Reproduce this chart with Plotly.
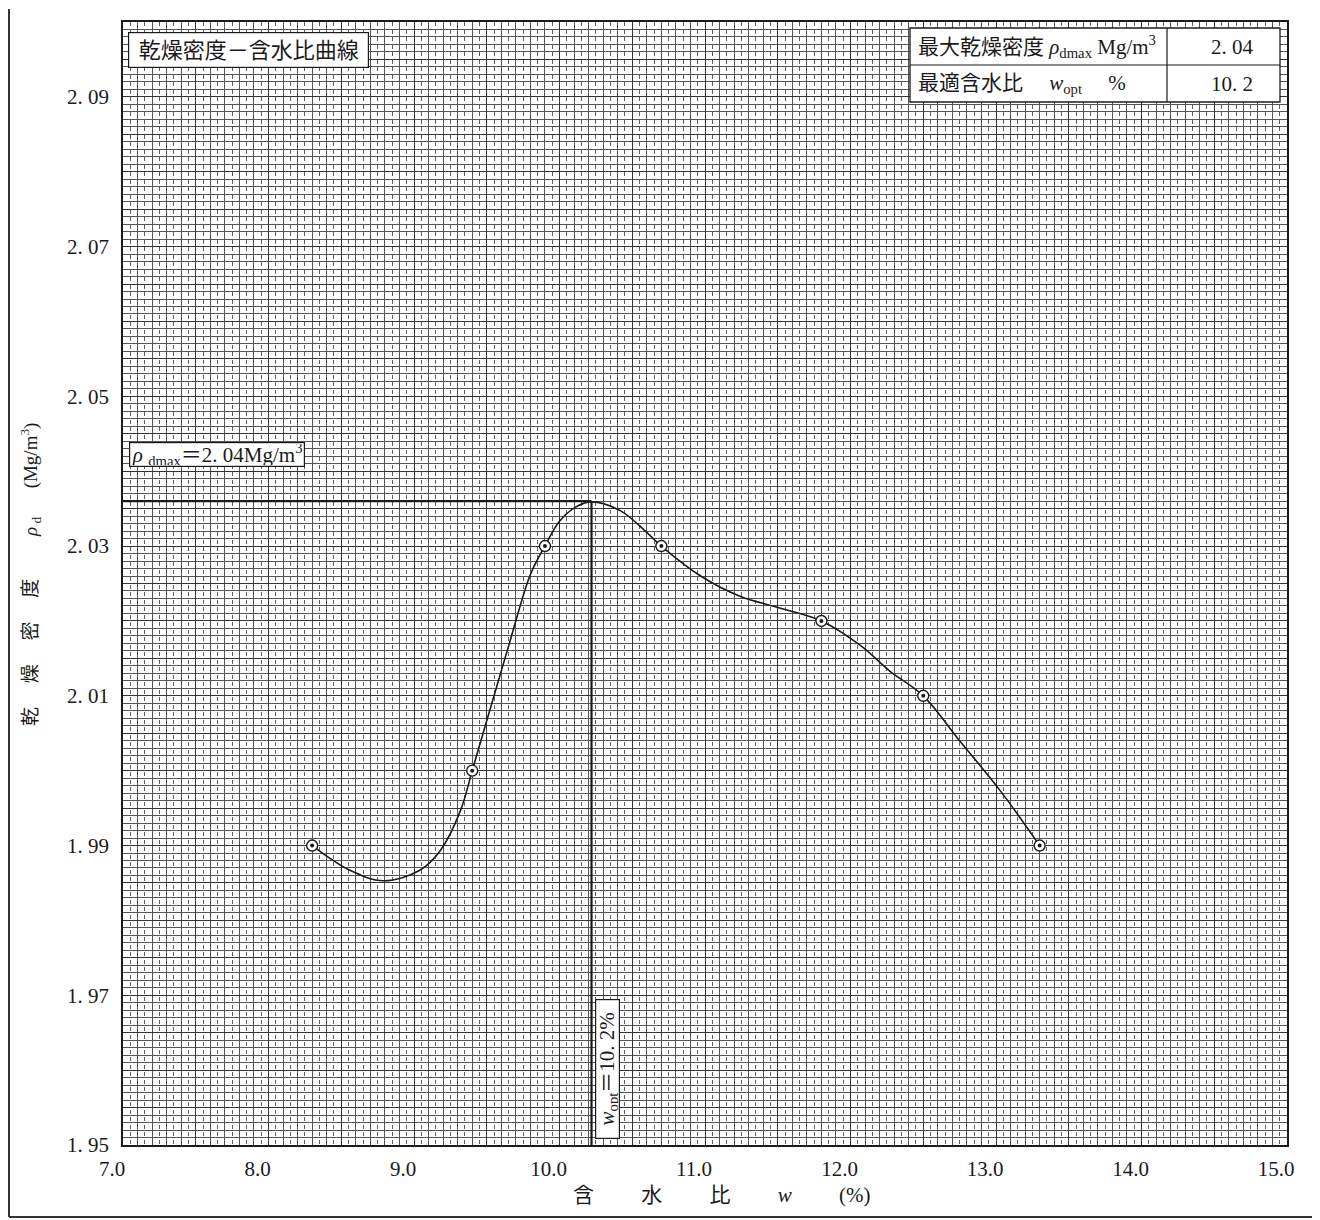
import plotly.graph_objects as go

# ---------------- data ----------------
w_points = [8.3, 9.4, 9.9, 10.7, 11.8, 12.5, 13.3]
rho_points = [1.990, 2.000, 2.030, 2.030, 2.020, 2.010, 1.990]

# hand-drawn compaction curve
curve_w = [8.30, 8.56, 8.79, 9.04, 9.18, 9.32, 9.40, 9.52, 9.66, 9.80, 9.90,
           10.00, 10.11, 10.22, 10.42, 10.59, 10.70, 10.97, 11.24, 11.52, 11.80,
           12.07, 12.27, 12.50, 12.75, 13.03, 13.30]
curve_rho = [1.9900, 1.9867, 1.9853, 1.9867, 1.9893, 1.9947, 2.0000, 2.0080, 2.0173,
             2.0262, 2.0300, 2.0333, 2.0352, 2.0359, 2.0347, 2.0320, 2.0300, 2.0260,
             2.0233, 2.0217, 2.0200, 2.0167, 2.0133, 2.0100, 2.0040, 1.9973, 1.9900]

w_opt_line = 10.22
rho_max_line = 2.036

x_tick_vals = [7.0, 8.0, 9.0, 10.0, 11.0, 12.0, 13.0, 14.0, 15.0]
x_tick_text = ["7.0", "8.0", "9.0", "10.0", "11.0", "12.0", "13.0", "14.0", "15.0"]
y_tick_vals = [1.95, 1.97, 1.99, 2.01, 2.03, 2.05, 2.07, 2.09]
y_tick_text = ["1. 95", "1. 97", "1. 99", "2. 01", "2. 03", "2. 05", "2. 07", "2. 09"]

x_range = [7.0, 15.0]
y_range = [1.95, 2.10]

# ---------------- layout helpers (page pixel coordinates) ----------------
OFF = 8                      # default page margin of the html body
W, H = 1320 - OFF, 1220 - OFF
L, R, T, B = 123, 1287, 22, 1145   # plot area on the page


def px(xp):
    return (xp - L) / (R - L)


def py(yp):
    return (B - yp) / (B - T)


SERIF = "Liberation Serif, Noto Sans CJK JP, serif"
INK = "#1a1a1a"

fig = go.Figure()

# reference lines (optimum water content / max dry density)
fig.add_trace(go.Scatter(x=[x_range[0], w_opt_line], y=[rho_max_line, rho_max_line],
                         mode="lines", line=dict(color=INK, width=2.2),
                         showlegend=False, hoverinfo="skip"))
fig.add_trace(go.Scatter(x=[w_opt_line, w_opt_line], y=[y_range[0], rho_max_line],
                         mode="lines", line=dict(color=INK, width=2.2),
                         showlegend=False, hoverinfo="skip"))

# curve
fig.add_trace(go.Scatter(x=curve_w, y=curve_rho, mode="lines",
                         line=dict(color=INK, width=1.6, shape="spline", smoothing=1.0),
                         showlegend=False, hoverinfo="skip"))

# measured points: ring + centre dot
fig.add_trace(go.Scatter(x=w_points, y=rho_points, mode="markers",
                         marker=dict(symbol="circle", size=11, color="white",
                                     line=dict(color=INK, width=1.4)),
                         showlegend=False))
fig.add_trace(go.Scatter(x=w_points, y=rho_points, mode="markers",
                         marker=dict(symbol="circle", size=4, color=INK),
                         showlegend=False, hoverinfo="skip"))

# empty trace for the overlay grid axes
fig.add_trace(go.Scatter(x=[], y=[], xaxis="x2", yaxis="y2", showlegend=False,
                         hoverinfo="skip"))

thin = "#555555"
heavy = "#333333"

fig.update_layout(
    width=W, height=H,
    margin=dict(l=L - OFF, r=W - (R - OFF), t=T - OFF, b=H - (B - OFF)),
    paper_bgcolor="white", plot_bgcolor="white",
    font=dict(family=SERIF, color=INK, size=20),
    xaxis=dict(range=x_range, tickmode="array", tickvals=x_tick_vals, ticktext=x_tick_text,
               showgrid=True, gridcolor=heavy, gridwidth=1.4,
               minor=dict(tickmode="linear", tick0=7.0, dtick=0.1, showgrid=True,
                          gridcolor=thin, gridwidth=1),
               showline=True, mirror=True, linecolor=INK, linewidth=1.6,
               ticks="", zeroline=False, tickfont=dict(family=SERIF, size=21, color=INK),
               ticklabelshift=-11, ticklabelstandoff=4),
    xaxis2=dict(range=x_range, overlaying="x", anchor="y", showticklabels=False,
                tickmode="linear", tick0=7.0, dtick=0.5, showgrid=True,
                gridcolor=heavy, gridwidth=1.25, zeroline=False, showline=False, ticks="",
                minor=dict(tickmode="linear", tick0=7.05, dtick=0.1, showgrid=True,
                           gridcolor="#5e5e5e", gridwidth=1, griddash="4px,3.5px")),
    yaxis=dict(range=y_range, tickmode="array", tickvals=y_tick_vals, ticktext=y_tick_text,
               showgrid=True, gridcolor=heavy, gridwidth=1.25,
               minor=dict(tickmode="linear", tick0=1.95, dtick=0.001, showgrid=True,
                          gridcolor=thin, gridwidth=1),
               showline=True, mirror=True, linecolor=INK, linewidth=1.6,
               ticks="", zeroline=False, tickfont=dict(family=SERIF, size=21, color=INK),
               ticklabelstandoff=8),
    yaxis2=dict(range=y_range, overlaying="y", anchor="x", showticklabels=False,
                tickmode="linear", tick0=1.95, dtick=0.005, showgrid=True,
                gridcolor=heavy, gridwidth=1.2, zeroline=False, showline=False, ticks=""),
)

annotations = []
# axis titles
annotations.append(dict(x=px(722), y=py(1195), xref="paper", yref="paper",
                        text="含　　 水　　 比　　 <i>w</i>　　 (%)",
                        showarrow=False, font=dict(family=SERIF, size=21, color=INK),
                        xanchor="center", yanchor="middle"))
annotations.append(dict(x=px(30), y=py(575), xref="paper", yref="paper",
                        text="乾 　燥 　密 　度 　　<i>ρ</i><sub> d</sub> 　 (Mg/m<sup>3</sup>)",
                        textangle=-90, showarrow=False,
                        font=dict(family=SERIF, size=19, color=INK),
                        xanchor="center", yanchor="middle"))
# chart title box
annotations.append(dict(x=px(248.5), y=py(50), xref="paper", yref="paper",
                        text="乾燥密度－含水比曲線", showarrow=False,
                        font=dict(family=SERIF, size=22, color=INK),
                        bgcolor="white", bordercolor=INK, borderwidth=1.2, borderpad=2,
                        width=235, height=30, xanchor="center", yanchor="middle"))
# rho dmax label box
annotations.append(dict(x=px(216.5), y=py(454), xref="paper", yref="paper",
                        text="<i>ρ</i> <sub>dmax</sub>＝2. 04Mg/m<sup>3</sup>", showarrow=False,
                        font=dict(family=SERIF, size=21, color=INK),
                        bgcolor="white", bordercolor=INK, borderwidth=1.2, borderpad=1,
                        width=172, height=21, xanchor="center", yanchor="middle"))
# w opt label box (vertical)
annotations.append(dict(x=px(607.5), y=py(1069.5), xref="paper", yref="paper",
                        text="<i>w</i><sub>opt</sub>＝10. 2%", showarrow=False, textangle=-90,
                        font=dict(family=SERIF, size=21, color=INK),
                        bgcolor="white", bordercolor=INK, borderwidth=1.2, borderpad=1,
                        width=136, height=21, xanchor="center", yanchor="middle"))

# table in top-right
tx0, tx1, txm = 910, 1280, 1167
ty0, ty1, tym = 28, 102, 65
shapes = [
    dict(type="rect", xref="paper", yref="paper", x0=px(tx0), x1=px(tx1), y0=py(ty1), y1=py(ty0),
         fillcolor="white", line=dict(color=INK, width=1.3), layer="above"),
    dict(type="line", xref="paper", yref="paper", x0=px(tx0), x1=px(tx1), y0=py(tym), y1=py(tym),
         line=dict(color=INK, width=1.2), layer="above"),
    dict(type="line", xref="paper", yref="paper", x0=px(txm), x1=px(txm), y0=py(ty1), y1=py(ty0),
         line=dict(color=INK, width=1.2), layer="above"),
    # page frame
    dict(type="line", xref="paper", yref="paper", x0=px(9), x1=px(9), y0=py(1217), y1=py(9),
         line=dict(color="#333", width=2)),
    dict(type="line", xref="paper", yref="paper", x0=px(9), x1=px(1320), y0=py(1217), y1=py(1217),
         line=dict(color="#333", width=2)),
]
row1_y = (ty0 + tym) / 2
row2_y = (tym + ty1) / 2
annotations.append(dict(x=px(916), y=py(row1_y), xref="paper", yref="paper",
                        text="最大乾燥密度 <i>ρ</i><sub>dmax</sub> Mg/m<sup>3</sup>", showarrow=False,
                        font=dict(family=SERIF, size=21, color=INK), xanchor="left", yanchor="middle"))
annotations.append(dict(x=px(916), y=py(row2_y), xref="paper", yref="paper",
                        text="最適含水比　 <i>w</i><sub>opt</sub>　 %", showarrow=False,
                        font=dict(family=SERIF, size=21, color=INK), xanchor="left", yanchor="middle"))
annotations.append(dict(x=px(1232), y=py(row1_y), xref="paper", yref="paper",
                        text="2. 04", showarrow=False,
                        font=dict(family=SERIF, size=21, color=INK), xanchor="center", yanchor="middle"))
annotations.append(dict(x=px(1232), y=py(row2_y), xref="paper", yref="paper",
                        text="10. 2", showarrow=False,
                        font=dict(family=SERIF, size=21, color=INK), xanchor="center", yanchor="middle"))

fig.update_layout(annotations=annotations, shapes=shapes)

fig.write_html("out.html")
